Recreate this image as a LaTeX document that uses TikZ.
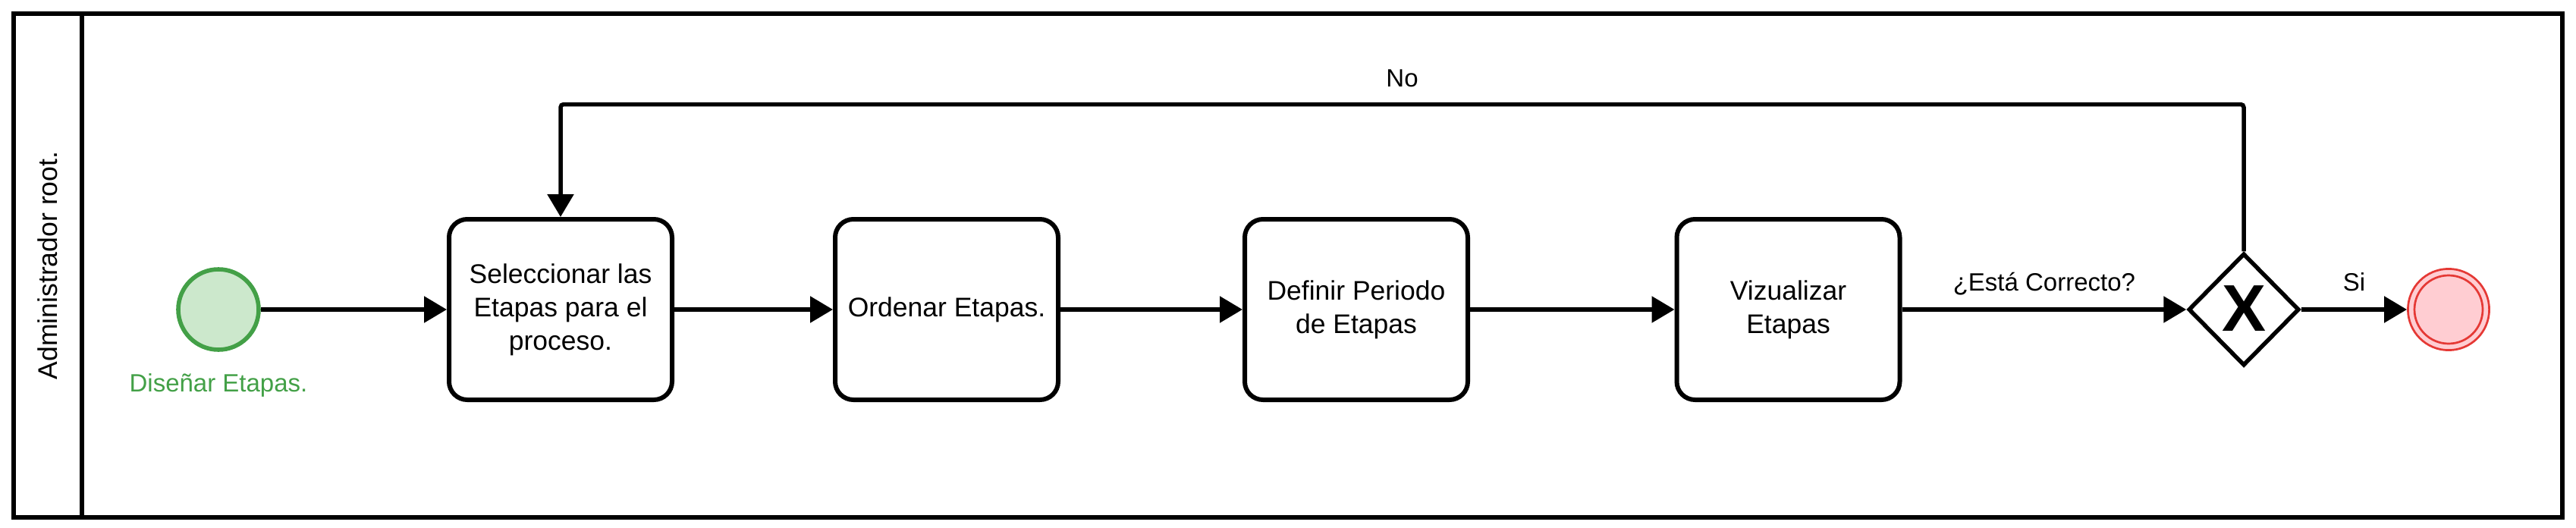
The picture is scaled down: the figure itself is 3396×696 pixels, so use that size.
\documentclass[tikz,border=0pt]{standalone}
\usepackage{fontspec}
\setmainfont{Liberation Sans}
\usetikzlibrary{arrows.meta,shapes.geometric}
\definecolor{evgreen}{HTML}{43A047}
\definecolor{evgreenfill}{HTML}{CCE8CC}
\definecolor{evred}{HTML}{E53935}
\definecolor{evredfill}{HTML}{FFCDD2}
\begin{document}
\begin{tikzpicture}[x=0.5pt,y=-0.5pt,
  task/.style={draw, line width=3pt, rounded corners=12pt, minimum width=147pt, minimum height=119pt, inner sep=0pt, align=center, font=\fontsize{17.75}{22}\selectfont},
  flow/.style={line width=2.75pt, -{Triangle[length=15pt,width=17pt]}},
  lbl/.style={font=\fontsize{16.5}{20}\selectfont, inner sep=0pt},
  startev/.style={circle, draw=evgreen, fill=evgreenfill, line width=2.8pt, minimum size=53pt, inner sep=0pt},
  endev/.style={circle, draw=evred, fill=evredfill, line width=1.35pt, minimum size=53.6pt, inner sep=0pt},
  gateway/.style={diamond, draw, line width=2.75pt, minimum width=73pt, minimum height=74pt, inner sep=0pt, fill=white},
  pool/.style={draw, line width=2.75pt}
]
\useasboundingbox (0,0) rectangle (3396,696);
% pool and lane
\coordinate (pooltl) at (18,18);
\coordinate (poolbr) at (3378,682);
\coordinate (lanetop) at (108,18);
\coordinate (lanebot) at (108,682);
\draw[pool] (pooltl) rectangle (poolbr);
\draw[pool] (lanetop) -- (lanebot);
\node[rotate=90, font=\fontsize{17.8}{22}\selectfont, inner sep=0pt] (lane) at (63,350) {Administrador root.};
% events
\node[startev] (start) at (288,408) {};
\node[lbl, text=evgreen, anchor=base] (startlbl) at (288,516) {Diseñar Etapas.};
\node[endev] (end) at (3228,408) {};
\draw[evred, line width=1.35pt] (end.center) circle (45);
% tasks
\node[task] (t1) at (739,408) {Seleccionar las\\Etapas para el\\proceso.};
\node[task] (t2) at (1248,408) {Ordenar Etapas.};
\node[task] (t3) at (1788,408) {Definir Periodo\\de Etapas};
\node[task] (t4) at (2357.5,408) {Vizualizar\\Etapas};
% gateway
\node[gateway] (gw) at (2958,408) {};
\node[font=\bfseries\fontsize{43.5}{44}\selectfont, inner sep=0pt] (gwx) at (2958,407) {X};
% flows
\coordinate (loopy) at (0,137.5);
\draw[flow] (start.east) -- (t1.west);
\draw[flow] (t1.east) -- (t2.west);
\draw[flow] (t2.east) -- (t3.west);
\draw[flow] (t3.east) -- (t4.west);
\draw[flow] (t4.east) -- node[lbl, midway, anchor=base, yshift=12.5pt] {¿Está Correcto?} (gw.west);
\draw[flow] (gw.east) -- node[lbl, midway, anchor=base, yshift=12.5pt] {Si} (end.west);
\draw[flow, rounded corners=2pt] (gw.north) -- (gw.north |- loopy) -- node[lbl, midway, anchor=base, yshift=11.75pt] {No} (t1.north |- loopy) -- (t1.north);
\end{tikzpicture}
\end{document}
